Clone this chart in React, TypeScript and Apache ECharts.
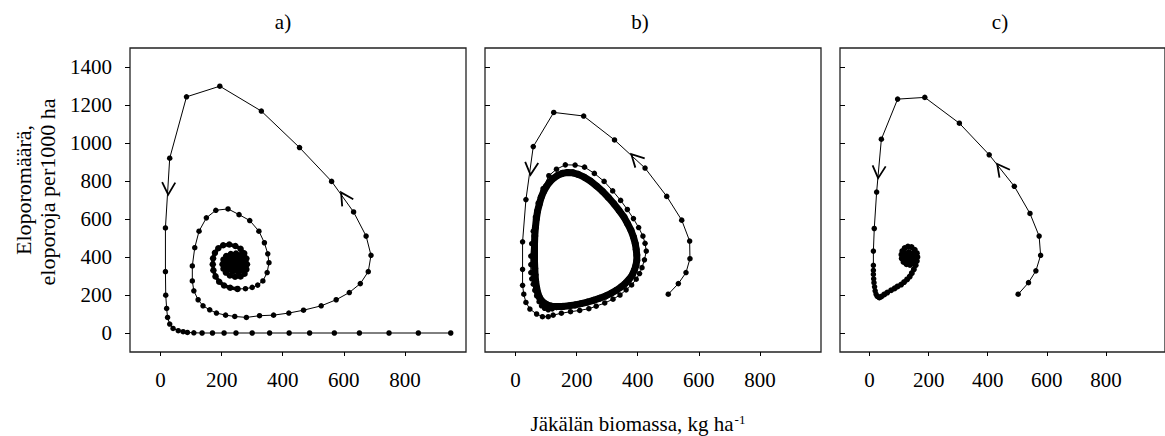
import React, { useEffect, useRef } from "react";
import * as echarts from "echarts";

const xTicks = [0, 200, 400, 600, 800];
const yTicks = [0, 200, 400, 600, 800, 1000, 1200, 1400];
const panelTitles = ["a)", "b)", "c)"];
const yTitleLines = ["Eloporomäärä,", "eloporoja per1000 ha"];
const xTitleMain = "Jäkälän biomassa, kg ha";
const xTitleSup = "-1";

// Panel a: dense inner spiral (start of the trajectory)
const coreA: number[][] = [
  [245, 362], [250, 368], [244, 374], [237, 368], [239, 358], [248, 353], [256, 360], [256, 372],
  [248, 382], [236, 381], [229, 370], [230, 355], [238, 345], [251, 342], [262, 350], [266, 366],
  [262, 384], [252, 396], [237, 398], [224, 390], [217, 372], [217, 352], [224, 335], [237, 325],
  [254, 322], [268, 330], [275, 348], [277, 370], [272, 393], [262, 410], [247, 418], [230, 416],
  [215, 405], [206, 386], [203, 362], [206, 338], [214, 318], [227, 303], [244, 296], [262, 298],
  [275, 312], [281, 335], [283, 362], [281, 392], [274, 420], [262, 443], [245, 458], [225, 466],
  [205, 462], [189, 446], [178, 422], [172, 393], [171, 362], [173, 330], [180, 298], [192, 270],
  [208, 250], [228, 238], [252, 232],
];
// Panel a: outward spiral, big loop, extinction path along y = 0
const trajA: number[][] = [
  [252, 232], [278, 233], [300, 240], [318, 252], [335, 274], [349, 318],
  [355, 370], [351, 417], [340, 475], [322, 536], [292, 592], [257, 623], [221, 653], [181, 646],
  [150, 606], [126, 536], [112, 449], [104, 353], [104, 274], [109, 222], [123, 175], [139, 143],
  [161, 122], [183, 105], [213, 94], [243, 87], [281, 82], [324, 91], [370, 94], [420, 105],
  [468, 120], [526, 143], [575, 175], [618, 213], [654, 260], [680, 323], [689, 409], [673, 510],
  [632, 637], [560, 798], [455, 976], [330, 1168], [194, 1299], [85, 1243], [30, 920], [16, 553],
  [16, 323], [17, 199], [20, 129], [23, 82], [30, 47], [41, 24], [58, 12], [74, 7], [88, 3],
  [109, 1], [136, 0], [170, 0], [208, 0], [247, 0], [300, 0], [357, 0], [421, 0], [488, 0],
  [569, 0], [651, 0], [748, 0], [844, 0], [950, 0],
];

// Panel b: transient trajectory and the limit cycle
const trajB: number[][] = [
  [500, 204], [533, 260], [558, 318], [571, 391], [570, 484], [544, 594], [495, 719], [424, 868],
  [324, 1016], [223, 1142], [125, 1161], [58, 981], [34, 702], [23, 480], [23, 335], [23, 251],
  [27, 204], [34, 161], [47, 126], [69, 100], [88, 86], [107, 86], [123, 94], [150, 104],
  [180, 112], [210, 119], [240, 128], [264, 141], [292, 158], [319, 178], [342, 200], [362, 227],
  [380, 253], [395, 283], [406, 313], [414, 344], [422, 385], [428, 431], [424, 472], [417, 510],
  [403, 555], [386, 602], [366, 650], [344, 698], [318, 748], [290, 798], [258, 840], [226, 873],
  [195, 884], [163, 885], [134, 862], [109, 828], [90, 760], [74, 684], [65, 610], [58, 536],
  [53, 470], [50, 405], [50, 360], [50, 318], [53, 285], [58, 257], [63, 225], [69, 196],
  [77, 165], [85, 143], [95, 130], [107, 122], [120, 127], [134, 139],
];
const cycleB: number[][] = [
  [134, 139], [155, 140], [175, 143], [195, 148], [215, 155], [235, 163], [255, 172], [275, 183],
  [295, 195], [313, 209], [330, 225], [346, 243], [360, 262], [372, 283], [382, 305], [389, 330],
  [394, 355], [397, 382], [397, 410], [395, 440], [392, 470], [386, 505], [378, 540], [367, 575],
  [355, 610], [339, 645], [322, 680], [304, 713], [285, 745], [265, 774], [245, 800], [225, 820],
  [205, 835], [188, 843], [170, 845], [153, 840], [138, 830], [124, 814], [112, 795], [101, 771],
  [92, 745], [84, 714], [78, 680], [72, 641], [68, 600], [65, 555], [63, 510], [62, 465],
  [62, 420], [62, 380], [63, 340], [64, 305], [66, 270], [69, 238], [73, 210], [78, 188],
  [85, 170], [94, 157], [105, 147], [118, 141], [134, 139],
];

// Panel c: converging trajectory, then its dense inner spiral
const trajC: number[][] = [
  [503, 204], [538, 265], [563, 327], [579, 409], [574, 510], [543, 629], [490, 772], [405, 938],
  [304, 1104], [187, 1240], [95, 1231], [40, 1020], [24, 742], [16, 550], [13, 431], [13, 356],
  [13, 330], [13, 309], [14, 285], [15, 265], [17, 243], [19, 222], [22, 205], [26, 193], [33, 187],
];
const coreC: number[][] = [
  [33, 187], [40, 192], [50, 203], [60, 213], [73, 225], [85, 235], [95, 245], [107, 255], [117, 268],
  [127, 282], [136, 297], [143, 315], [150, 335], [156, 357], [160, 379], [162, 400], [160, 420],
  [153, 438], [142, 452], [130, 455], [119, 447], [111, 431], [108, 412], [109, 392], [115, 374],
  [125, 362], [137, 358], [147, 366], [153, 383], [152, 403], [145, 419], [133, 426], [122, 419],
  [117, 403], [119, 386], [127, 375], [137, 375], [143, 386], [142, 400], [135, 410], [127, 406],
  [125, 394], [131, 386], [137, 392], [133, 399],
];

// Arrow heads: [tipX, tipY, backX, backY]
const arrowsA: number[][] = [[25, 728, 30, 920], [591, 740, 632, 637]];
const arrowsB: number[][] = [[49, 833, 58, 981], [379, 941, 424, 868]];
const arrowsC: number[][] = [[29, 815, 40, 1020], [432, 890, 490, 772]];

const FONT = '"Liberation Serif", "Times New Roman", serif';
const gridLefts = [130, 485, 840];
const titleX = [283, 640, 1000];

function arrowRender(params: any, api: any) {
  const tip = api.coord([api.value(0), api.value(1)]);
  const back = api.coord([api.value(2), api.value(3)]);
  const dx = back[0] - tip[0];
  const dy = back[1] - tip[1];
  const len = Math.hypot(dx, dy) || 1;
  const ux = dx / len;
  const uy = dy / len;
  const L = 14;
  const a = (28 * Math.PI) / 180;
  const c = Math.cos(a);
  const s = Math.sin(a);
  const p1 = [tip[0] + (ux * c - uy * s) * L, tip[1] + (ux * s + uy * c) * L];
  const p2 = [tip[0] + (ux * c + uy * s) * L, tip[1] + (-ux * s + uy * c) * L];
  return {
    type: "polyline",
    shape: { points: [p1, tip, p2] },
    style: { stroke: "#000", lineWidth: 1.8, fill: null },
  };
}

export default function App() {
  const ref = useRef<HTMLDivElement>(null);
  useEffect(() => {
    if (!ref.current) return;
    const chart = echarts.init(ref.current, null, { renderer: "svg" });
    const grids = gridLefts.map((l) => ({
      left: l,
      top: 48,
      width: 336,
      height: 304,
      show: true,
      borderColor: "#222",
      borderWidth: 1.3,
      backgroundColor: "transparent",
    }));
    const xAxes = gridLefts.map((_, i) => ({
      type: "value",
      gridIndex: i,
      min: -100,
      max: 1000,
      splitLine: { show: false },
      axisLine: { show: false, onZero: false },
      axisTick: { show: true, length: 4, customValues: xTicks, lineStyle: { color: "#000", width: 1 } },
      axisLabel: {
        show: true,
        customValues: xTicks,
        formatter: (v: number) => String(v),
        margin: 17,
        fontFamily: FONT,
        fontSize: 21,
        color: "#000",
      },
    }));
    const yAxes = gridLefts.map((_, i) => ({
      type: "value",
      gridIndex: i,
      min: -100,
      max: 1500,
      splitLine: { show: false },
      axisLine: { show: false, onZero: false },
      axisTick: {
        show: true,
        inside: i > 0,
        length: 5,
        customValues: yTicks,
        lineStyle: { color: "#000", width: 1 },
      },
      axisLabel: {
        show: i === 0,
        customValues: yTicks,
        formatter: (v: number) => String(v),
        margin: 18,
        fontFamily: FONT,
        fontSize: 21,
        color: "#000",
      },
    }));
    const lineSeries = (data: number[][], i: number, width = 1, size = 5.5) => ({
      type: "line",
      xAxisIndex: i,
      yAxisIndex: i,
      data,
      symbol: "circle",
      symbolSize: size,
      showSymbol: true,
      lineStyle: { color: "#000", width },
      itemStyle: { color: "#000" },
      silent: true,
      z: 3,
    });
    const arrowSeries = (data: number[][], i: number) => ({
      type: "custom",
      xAxisIndex: i,
      yAxisIndex: i,
      data,
      renderItem: arrowRender,
      silent: true,
      z: 4,
    });
    const graphic: any[] = [];
    panelTitles.forEach((t, i) => {
      graphic.push({
        type: "text",
        x: titleX[i],
        y: 22,
        style: { text: t, font: `21px ${FONT}`, fill: "#000", textAlign: "center", textVerticalAlign: "middle" },
      });
    });
    graphic.push({
      type: "text",
      x: 23,
      y: 190,
      rotation: Math.PI / 2,
      style: { text: yTitleLines[0], font: `22px ${FONT}`, fill: "#000", textAlign: "center", textVerticalAlign: "middle" },
    });
    graphic.push({
      type: "text",
      x: 47,
      y: 192,
      rotation: Math.PI / 2,
      style: { text: yTitleLines[1], font: `22px ${FONT}`, fill: "#000", textAlign: "center", textVerticalAlign: "middle" },
    });
    graphic.push({
      type: "text",
      x: 638,
      y: 424,
      style: {
        text: `{m|${xTitleMain}}{s|${xTitleSup}}`,
        textAlign: "center",
        textVerticalAlign: "middle",
        rich: {
          m: { fontFamily: FONT, fontSize: 21, fill: "#000", color: "#000" },
          s: { fontFamily: FONT, fontSize: 13, fill: "#000", color: "#000", verticalAlign: "top", padding: [0, 0, 10, 1] },
        },
      },
    });
    chart.setOption({
      animation: false,
      grid: grids,
      xAxis: xAxes,
      yAxis: yAxes,
      series: [
        lineSeries(coreA, 0, 3.5, 6.5),
        lineSeries(trajA, 0),
        lineSeries(trajB, 1),
        lineSeries(cycleB, 1, 7, 7),
        lineSeries(trajC, 2),
        lineSeries(coreC, 2, 3, 6),
        arrowSeries(arrowsA, 0),
        arrowSeries(arrowsB, 1),
        arrowSeries(arrowsC, 2),
      ],
      graphic,
    });
    return () => chart.dispose();
  }, []);
  return (
    <div
      ref={ref}
      style={{ position: "fixed", left: 0, top: 0, width: 1165, height: 436, background: "#fff" }}
    />
  );
}
